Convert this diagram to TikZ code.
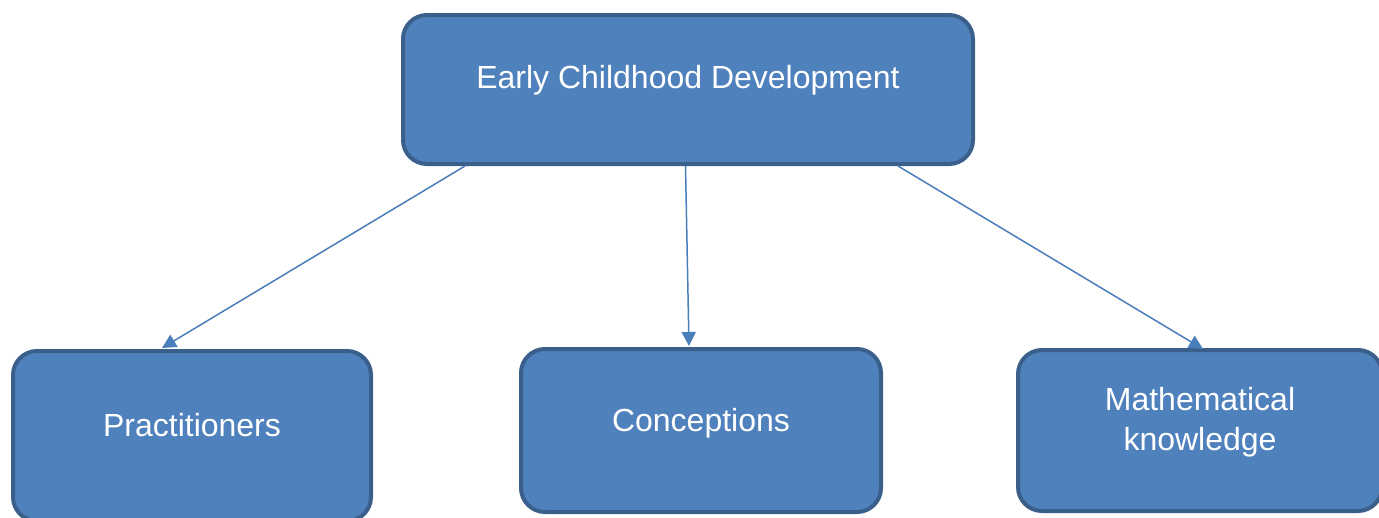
\documentclass[tikz,border=0pt]{standalone}
\usepackage{fontspec}
\setmainfont{Liberation Sans}
\usetikzlibrary{arrows.meta}
\definecolor{boxfill}{HTML}{4F81BD}
\definecolor{boxline}{HTML}{3A5F8B}
\definecolor{arrcol}{HTML}{4A7EBB}
\tikzset{
  box/.style={draw=boxline, fill=boxfill, line width=4pt, rounded corners=24pt, rectangle, inner sep=0pt},
  txt/.style={text=white, font=\fontsize{32}{40}\selectfont, align=center, inner sep=0pt},
  arr/.style={draw=arrcol, line width=1.5pt, -{Triangle[length=14pt,width=14pt]}}
}
\begin{document}
\begin{tikzpicture}[x=1pt,y=-1pt]
\useasboundingbox (0,0) rectangle (1379,517);
\clip (0,0) rectangle (1379,517);
% boxes (outer extents minus half line width)
\node[box, minimum width=570pt, minimum height=149pt] (top) at (688,89.5) {};
\node[box, minimum width=358pt, minimum height=170pt] (prac) at (192,436) {};
\node[box, minimum width=360pt, minimum height=163pt] (conc) at (701,430.5) {};
\node[box, minimum width=364pt, minimum height=161pt] (math) at (1200,430.5) {};
% texts
\node[txt] (toptxt) at (688,80) {Early Childhood Development};
\node[txt] (practxt) at (192,425.5) {Practitioners};
\node[txt] (conctxt) at (701,423.5) {Conceptions};
\node[txt] (mathtxt) at (1200,422.7) {Mathematical\\knowledge};
% connector end points
\coordinate (s1) at (465,166);
\coordinate (s2) at (685.5,166);
\coordinate (s3) at (898,166);
\coordinate (e1) at (162,348);
\coordinate (e2) at (689,346);
\coordinate (e3) at (1203,349);
\draw[arr] (s1) -- (e1);
\draw[arr] (s2) -- (e2);
\draw[arr] (s3) -- (e3);
\end{tikzpicture}
\end{document}
